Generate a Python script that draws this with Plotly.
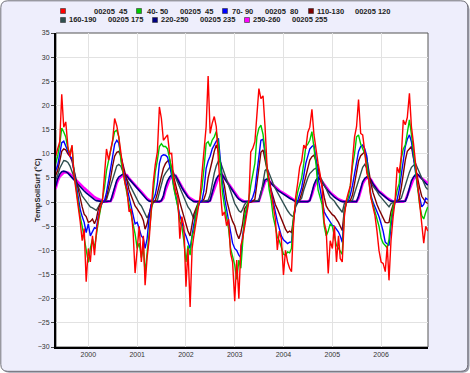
import plotly.graph_objects as go

# ---------------- data (semi-monthly readings, 1999-05 .. 2006-12) ----------------
years = [1999, 2000, 2001, 2002, 2003, 2004, 2005, 2006]
year_ticks = [2000, 2001, 2002, 2003, 2004, 2005, 2006]

dates = []
for y in years:
    for m in range(1, 13):
        if y == 1999 and m < 5:
            continue
        for d in (1, 16):
            dates.append(f"{y}-{m:02d}-{d:02d}")

red = [
    9.5, 11, 12.5, 22.3, 15.5, 16.6, 11.5, 9.4, 11.8, 5.5, 2.5, -0.5, -4, -8, -5.5, -16.5,
    -9.6, -12.4, -7, -11, -6.3, -3.5, -1, 0.3, 5, 11, 8.7, 11.2, 12.8, 17.3, 15.8, 13.5, 10, 6.5, 4, 2.5, -2, -1.4, -6, -14.7,
    -10, -5, -12.4, -7, -17.2, -11.5, -7.6, -1.1, 4, 7.7, 10.4, 19.7, 17.3, 12.8, 13.5, 13.9, 10, 10.1, 4.5, 2.1, 1, -7.6, -3, -5,
    -17.5, -9.6, -21.7, -9.6, -7, -4.2, -1.4, 1, 6, 10.4, 15.6, 26.1, 14.2, 16.3, 17.7, 15.6, 8, 2.1, -2.8, -2, -4.9, -3.5, -10.6, -12.4,
    -20.5, -12, -20, -9, -7.6, -5.5, -2.5, 0, 10.4, 11.1, 12.5, 18, 23.5, 21.4, 22, 15.6, 6.9, 4.5, 2.1, -1, -3.5, -9.9, -6, -7.6,
    -15.1, -10, -12.4, -13.7, -14.4, -5, 1, 3.8, 7.2, 8.5, 11.8, 11, 14.4, 15.5, 19.2, 14, 10.4, 8, 5.8, 3, -4.2, -6, -14.8, -8,
    -9.6, -4.9, -12.4, -7, -11.7, -12.4, -3, 0.4, 2, 3.4, 8.7, 13.5, 15.6, 21.2, 14.2, 13.9, 10.4, 6, 4.5, 1, -1, -2.8, -6, -10,
    -12.4, -12.7, -14.4, -9, -16.2, -8, -3, 0.4, 7.2, 6, 9.5, 17, 16, 17.5, 22.5, 15.6, 12, 8, 3, -1, -4.9, -8.5, -5, -6,
]
green = [
    8, 9.4, 12, 15.3, 14.5, 13.5, 11, 10.1, 11.5, 6, 3, 0, -3, -5, -7.6, -10,
    -12.5, -9.6, -7.6, -9.6, -6.5, -4, -1.5, 0.5, 3, 6.5, 8.7, 11, 12.5, 14.6, 14.9, 13.5, 8.5, 6, 3.5, 1.8, -0.5, -2.5, -4, -6.6,
    -9.6, -8.5, -11.5, -9.5, -14.7, -10.6, -5, -1, 3.4, 6.2, 8.7, 11.5, 12.1, 11.5, 11.5, 11, 9, 6.5, 3, 1, -1, -4, -5, -8,
    -12.4, -9, -11, -7, -6, -2.8, -0.5, 0.5, 3, 7, 12.1, 12.5, 11.5, 12.8, 13.5, 14.6, 12, 7.5, 2, -0.8, -3, -5.5, -9.6, -11.5,
    -13, -16, -12, -13.7, -7.5, -2.8, -1, 0.5, 3.4, 6, 8, 13.5, 15.3, 15.9, 14, 10.5, 5.5, 2.5, 0.4, -3, -5, -7.3, -8, -9.6,
    -10.8, -11, -10.3, -10.5, -9.6, -3, 0, 2, 3.5, 5, 8, 11.5, 12, 12.8, 14.6, 11, 7.7, 2.5, 1, -0.5, -5, -7, -6, -4.5,
    -5, -7, -9, -9.6, -10.3, -10.8, -2, 0, 1, 3.5, 7.5, 10, 13.5, 13.9, 12, 11.1, 10, 8, 4, 1, -0.5, -2, -3.5, -5,
    -7.5, -8.5, -9, -9.5, -7.7, -3.5, -1, 0.4, 2.5, 3.8, 9, 11, 11.8, 14, 17, 14, 10, 6.5, 2, -0.5, -2.8, -3.5, -2.1, -1,
]
blue = [
    6.5, 7.5, 10, 12.3, 12.6, 11.5, 10.5, 9.5, 9, 6.5, 3.5, 1, -1.5, -3, -4.2, -6.3,
    -4.5, -7, -6, -5.3, -5.5, -2.8, -1.2, 0, 0.3, 2, 4.5, 7, 9.5, 12, 12.8, 12.2, 9.5, 7, 5, 3, 1, -1, -2.5, -4.5,
    -4.2, -5.5, -7, -7.5, -9.6, -7.6, -3, -0.5, 0.5, 1.5, 3.8, 8, 9.5, 9.8, 9.7, 9.3, 7.5, 5.5, 3.5, 1.5, -0.2, -2.8, -4, -6,
    -7, -8.5, -9.6, -7, -4.5, -2.8, -1, 0, 0.3, 2.5, 7, 8.5, 9.5, 11, 12, 12.6, 13.2, 8.5, 4, 1, -1.5, -3.5, -6.5, -8.5,
    -9.6, -10, -11, -11.5, -7, -4, -1.5, 0, 0.2, 1, 2.5, 6, 10, 12.8, 13, 10, 7, 4, 2.1, 0, -2, -4, -5.5, -7,
    -7.8, -8.3, -8.6, -8.3, -8.3, -4, -0.5, 0.2, 1.5, 3, 5.5, 8, 9.5, 11, 11.5, 11.8, 9, 5, 2.8, 0.5, -2, -2.8, -3.5, -4.2,
    -4.8, -5, -5.6, -6.2, -7, -8.3, -2, 0, 0.3, 1.5, 3.5, 6, 8.7, 10.5, 11.5, 11.8, 11, 9.5, 5, 1.5, 0, -1, -2, -3,
    -4.5, -6, -8.3, -8.6, -9, -5, -1.5, 0, 0.5, 2.5, 6, 9, 11.5, 13, 13.9, 12.5, 9, 6.5, 3, 1, -1, -0.5, 0.8, 0.5,
]
darkred = [
    5.5, 6.5, 8.5, 10.5, 11, 10.8, 10, 9.5, 8.5, 6.5, 4.5, 2.5, 0.5, -1, -2.5, -3,
    -4.2, -4, -3.5, -4.5, -3.5, -1.5, -0.3, 0, 0.2, 1, 3, 5, 7.5, 9.5, 10.3, 10.5, 9.5, 8, 6, 4.5, 2.5, 1.5, 0.3, -0.8,
    -1.4, -2, -2.8, -3.8, -5.6, -4.5, -2.5, -0.5, 0, 0.3, 1.8, 3.5, 5, 7, 8, 8.5, 8.7, 7, 5, 3, 1.5, 0, -1.5, -3,
    -4.2, -6, -7, -4, -2.5, -1.4, -0.3, 0, 0.2, 0.6, 2, 5, 6.5, 8.5, 10.5, 11.8, 10.5, 8.2, 5, 3.4, 0.5, -1.5, -2.8, -4,
    -4.9, -6.5, -7.6, -6.3, -4.5, -1.4, -0.5, 0, 0, 0.2, 0.6, 4, 7.5, 10.3, 10.8, 8.5, 6.5, 4.5, 2.5, 0.8, -0.5, -1.4, -2.5, -3.5,
    -4.5, -5.6, -6.3, -6, -6.3, -3.5, -0.5, 0, 0.5, 1.8, 3.5, 5.5, 7, 8.7, 9.4, 9.7, 8.5, 7.3, 5, 3.4, 1, -0.8, -1.5, -2.1,
    -2.6, -2.9, -3.5, -4.2, -5, -5.9, -1.5, -0.2, 0.2, 0.4, 1.5, 4, 6, 8.5, 9.6, 10, 10.4, 9, 6, 4, 2, 0.5, -0.5, -1.5,
    -2.5, -3.3, -4.2, -4.3, -4.2, -2, -0.5, 0, 0.2, 0.5, 3, 6, 8.7, 10.5, 11, 11.5, 9, 7, 4.5, 3, 1.2, 0.5, 0, -0.3,
]
slate = [
    4.5, 5.5, 7, 8, 8.6, 8.5, 8.2, 7.5, 6.5, 5.2, 4.2, 3.2, 2.2, 1.3, 0.7, 0.1,
    -0.5, -1, -1.2, -1.5, -1.7, -1, -0.2, 0, 0.1, 0.5, 2, 3.5, 5, 6.5, 7.5, 7.8, 7.4, 6.3, 5.5, 4.5, 3.6, 2.8, 1.9, 1.1,
    0.4, -0.3, -0.8, -1.6, -2.5, -3.3, -2.3, -1, -0.1, 0.2, 0.4, 2, 3.8, 5.2, 6, 6.6, 7.2, 7, 6, 5, 4, 3, 2, 0.8,
    -0.2, -1, -1.6, -2.5, -3.5, -2, -0.5, 0, 0.1, 0.2, 0.3, 0.4, 1.5, 3.9, 6, 7.5, 8.5, 8.3, 7, 6, 4.8, 3.5, 2.3, 1.1,
    -0.3, -1, -1.8, -2.1, -1.5, -0.5, 0, 0, 0.1, 0.2, 0.3, 0.3, 0.4, 1.5, 4.5, 6.5, 7, 5.8, 4.6, 3.8, 2.8, 2, 1.2, 0.4,
    -0.4, -1.1, -1.8, -2.4, -2.8, -3, -1, -0.2, 0.2, 0.8, 2.5, 4, 5, 5.9, 6.4, 6.8, 7, 6.2, 5.5, 4.5, 3.7, 2.7, 1.8, 1,
    0.6, 0.2, -0.5, -1, -1.5, -2.1, -0.3, 0, 0.1, 0.2, 0.4, 1.8, 3.2, 4.8, 6.3, 7.2, 7.8, 7, 5.3, 4, 3.3, 2.8, 2.2, 1.5,
    1, 0.5, -0.2, -0.6, -1, -0.3, 0, 0.1, 0.2, 0.4, 0.8, 2.2, 3.2, 5, 6.2, 7.2, 7.7, 8, 7, 6, 4.7, 3.8, 3.1, 2.6,
]
navy = [
    3.2, 4.8, 5.8, 6.3, 6.4, 6.3, 6.0, 5.6, 5.1, 4.6, 4.1, 3.6, 3.1, 2.7, 2.3, 1.9,
    1.5, 1.1, 0.8, 0.5, 0.3, 0.2, 0.1, 0.1, 0.1, 0.1, 0.1, 0.2, 1.6, 3.2, 4.5, 5.2, 5.6, 5.8, 5.7, 5.4, 4.8, 4.3, 3.8, 3.3,
    2.8, 2.3, 1.8, 1.3, 0.9, 0.5, 0.2, 0.1, 0.1, 0.1, 0.1, 0.1, 0.3, 1.3, 3.2, 4.4, 5.2, 5.6, 5.7, 5.4, 4.6, 3.7, 3.0, 2.3,
    1.6, 1.0, 0.6, 0.3, 0.1, 0.1, 0.1, 0.1, 0.1, 0.1, 0.1, 0.1, 0.3, 2.0, 3.6, 4.8, 5.5, 5.8, 5.6, 4.9, 4.2, 3.6, 3.0, 2.3,
    1.7, 1.1, 0.6, 0.3, 0.1, 0.1, 0.1, 0.1, 0.1, 0.1, 0.1, 0.1, 0.2, 2.0, 3.6, 4.6, 4.8, 4.3, 3.8, 3.4, 2.9, 2.5, 2.2, 1.9,
    1.7, 1.4, 1.1, 0.8, 0.6, 0.3, 0.1, 0.1, 0.1, 0.1, 0.1, 0.1, 0.1, 0.3, 2.0, 3.6, 4.6, 5.1, 4.7, 4.0, 3.4, 2.8, 2.3, 1.8,
    1.4, 1.0, 0.7, 0.4, 0.2, 0.1, 0.1, 0.1, 0.1, 0.1, 0.1, 0.1, 0.1, 1.2, 3.0, 4.2, 4.9, 5.2, 5.0, 4.6, 3.8, 3.1, 2.6, 2.1,
    1.7, 1.3, 0.9, 0.6, 0.4, 0.2, 0.1, 0.1, 0.1, 0.1, 0.1, 0.1, 0.2, 1.2, 3.2, 4.4, 5.2, 5.7, 5.8, 5.3, 4.7, 4.3, 3.9, 3.5,
]
magenta = [
    2.8, 4.3, 5.3, 5.8, 6.1, 6.2, 6.1, 5.8, 5.4, 5.0, 4.6, 4.2, 3.7, 3.3, 2.9, 2.5,
    2.1, 1.7, 1.3, 1.0, 0.8, 0.6, 0.5, 0.3, 0.1, 0.1, 0.1, 0.2, 1.0, 2.5, 4.0, 4.8, 5.3, 5.6, 5.7, 5.6, 4.9, 4.4, 4.0, 3.5,
    3.0, 2.6, 2.1, 1.6, 1.2, 0.7, 0.4, 0.2, 0.1, 0.1, 0.1, 0.1, 0.3, 0.8, 2.5, 3.8, 4.8, 5.4, 5.6, 5.5, 4.8, 3.9, 3.2, 2.5,
    1.8, 1.2, 0.8, 0.5, 0.3, 0.1, 0.1, 0.1, 0.1, 0.1, 0.1, 0.1, 0.3, 1.5, 3.0, 4.3, 5.1, 5.6, 5.6, 5.0, 4.4, 3.8, 3.2, 2.5,
    1.9, 1.3, 0.8, 0.5, 0.3, 0.1, 0.1, 0.1, 0.1, 0.1, 0.1, 0.1, 0.2, 1.5, 3.0, 4.2, 4.6, 4.4, 3.9, 3.5, 3.0, 2.7, 2.4, 2.1,
    1.9, 1.6, 1.3, 1.0, 0.8, 0.5, 0.2, 0.1, 0.1, 0.1, 0.1, 0.1, 0.1, 0.4, 1.5, 3.0, 4.2, 4.9, 4.8, 4.2, 3.6, 3.0, 2.5, 2.0,
    1.6, 1.2, 0.9, 0.6, 0.4, 0.2, 0.1, 0.1, 0.1, 0.1, 0.1, 0.1, 0.1, 0.8, 2.5, 3.8, 4.6, 5.0, 5.0, 4.7, 3.9, 3.3, 2.8, 2.2,
    1.9, 1.5, 1.1, 0.8, 0.6, 0.3, 0.1, 0.1, 0.1, 0.1, 0.1, 0.1, 0.3, 1.5, 2.8, 3.9, 4.8, 5.4, 5.6, 5.3, 4.9, 4.6, 4.2, 3.9,
]

depth_labels = ["", "40- 50", "70- 90", "110-130", "160-190", "220-250", "250-260"]
station_labels = ["00205  45", "00205  45", "00205  80", "00205 120",
                  "00205 175", "00205 235", "00205 255"]
y_ticks = [-30, -25, -20, -15, -10, -5, 0, 5, 10, 15, 20, 25, 30, 35]

series = [red, green, blue, darkred, slate, navy, magenta]
colors = ["#FF0000", "#00CC00", "#0000FF", "#800000", "#2F4F4F", "#000080", "#FF00FF"]
widths = [1.4, 1.4, 1.4, 1.4, 1.4, 1.6, 2.6]

# ---------------- layout helpers ----------------
W, H = 470, 373
L, R, T, B = 56, 428, 33, 347


def pxx(p):
    return (p - L) / (R - L)


def pxy(p):
    return (B - p) / (B - T)


fig = go.Figure()

# draw deepest first so that red ends on top
for vals, col, w in reversed(list(zip(series, colors, widths))):
    fig.add_trace(go.Scatter(x=dates, y=vals, mode="lines",
                             line=dict(color=col, width=w),
                             showlegend=False, hoverinfo="skip"))

shapes = []


def rounded(x0, y0, x1, y1, r):
    rx, ry = r / (R - L), r / (B - T)
    X0, X1 = pxx(x0), pxx(x1)
    Y0, Y1 = pxy(y0), pxy(y1)  # Y0 top, Y1 bottom
    return (f"M {X0+rx},{Y0} L {X1-rx},{Y0} Q {X1},{Y0} {X1},{Y0-ry} "
            f"L {X1},{Y1+ry} Q {X1},{Y1} {X1-rx},{Y1} L {X0+rx},{Y1} "
            f"Q {X0},{Y1} {X0},{Y1+ry} L {X0},{Y0-ry} Q {X0},{Y0} {X0+rx},{Y0} Z")


# shadow + lavender panel
shapes.append(dict(type="path", xref="paper", yref="paper", layer="below",
                   path=rounded(2.5, 2.5, 469.5, 372.8, 7),
                   fillcolor="#9a9aa8", line=dict(width=0)))
shapes.append(dict(type="path", xref="paper", yref="paper", layer="below",
                   path=rounded(0.8, 0.8, 467.8, 371.3, 7),
                   fillcolor="#EEEEFC", line=dict(color="#707078", width=1)))
# white plotting area + thin frame
shapes.append(dict(type="rect", xref="paper", yref="paper", layer="below",
                   x0=0, x1=1, y0=0, y1=1, fillcolor="white",
                   line=dict(color="#555555", width=1)))

# legend (custom, squares + two labels per series)
leg_sq_x = [63, 139, 225, 311, 63, 155, 247]
leg_lab_x = [67, 145, 230, 315, 67, 159, 251]
leg_sta_x = [92, 178, 263, 353, 106, 198, 290]
leg_y = [11, 11, 11, 11, 20, 20, 20]
annotations = []
for i in range(7):
    sx, sy = leg_sq_x[i], leg_y[i]
    shapes.append(dict(type="rect", xref="paper", yref="paper",
                       x0=pxx(sx - 2.5), x1=pxx(sx + 2.5), y0=pxy(sy + 2.5), y1=pxy(sy - 2.5),
                       fillcolor=colors[i], line=dict(color="#333333", width=0.6)))
    if depth_labels[i]:
        annotations.append(dict(x=pxx(leg_lab_x[i]), y=pxy(sy), xref="paper", yref="paper",
                                text="<b>" + depth_labels[i] + "</b>", showarrow=False,
                                xanchor="left", yanchor="middle",
                                font=dict(size=7.5, color="#222222")))
    annotations.append(dict(x=pxx(leg_sta_x[i]), y=pxy(sy), xref="paper", yref="paper",
                            text="<b>" + station_labels[i].replace(" ", "\u00a0") + "</b>",
                            showarrow=False, xanchor="left", yanchor="middle",
                            font=dict(size=7.5, color="#222222")))

annotations.append(dict(x=pxx(37), y=pxy(190), xref="paper", yref="paper",
                        text="<b>TempSoilSurf (°C)</b>", textangle=-90, showarrow=False,
                        xanchor="center", yanchor="middle",
                        font=dict(size=7.5, color="#222222")))

fig.update_layout(
    width=W, height=H,
    margin=dict(l=L, r=W - R, t=T, b=H - B, pad=0),
    paper_bgcolor="white", plot_bgcolor="rgba(0,0,0,0)",
    font=dict(family="Liberation Sans, Arial, sans-serif", size=7, color="#333333"),
    shapes=shapes, annotations=annotations,
    xaxis=dict(type="date", range=["1999-05-04", "2006-12-18"],
               tickvals=[f"{y}-01-01" for y in year_ticks],
               ticktext=[str(y) for y in year_ticks],
               showgrid=True, gridcolor="#E2E2E2", gridwidth=1,
               showline=True, linecolor="black", linewidth=2,
               ticks="", tickfont=dict(size=7, color="#333333"),
               zeroline=False, fixedrange=True),
    yaxis=dict(range=[-30, 35], tickvals=y_ticks,
               showgrid=True, gridcolor="#E2E2E2", gridwidth=1,
               showline=True, linecolor="black", linewidth=2,
               ticks="outside", ticklen=3, tickcolor="#444444",
               tickfont=dict(size=7, color="#333333"),
               zeroline=False, fixedrange=True),
)

fig.write_html("out.html", config={"displayModeBar": False},
               post_script="document.body.style.margin='0';document.body.style.padding='0';")
